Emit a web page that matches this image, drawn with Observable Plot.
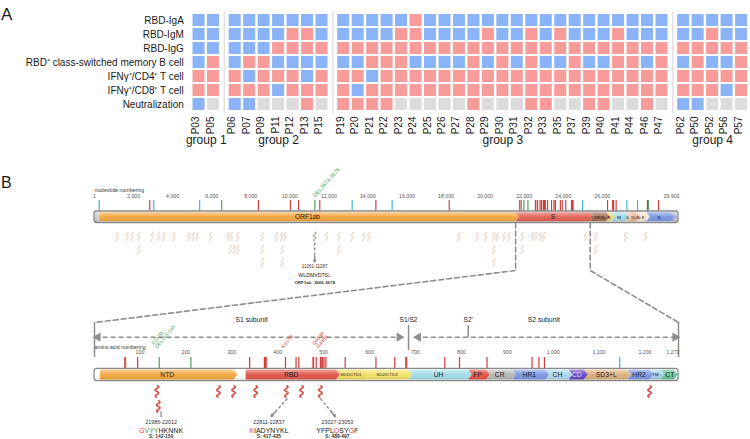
<!DOCTYPE html>
<html>
<head>
<meta charset="utf-8">
<script src="https://cdn.jsdelivr.net/npm/d3@7"></script>
<script src="https://cdn.jsdelivr.net/npm/@observablehq/plot@0.6"></script>
<style>
  html, body { margin: 0; padding: 0; background: #fff; }
  #chart { width: 750px; height: 439px; overflow: hidden; font-family: 'Liberation Sans', Arial, Helvetica, sans-serif; }
  #chart svg { display: block; }
</style>
</head>
<body>
<div id="chart"></div>
<script>
// ================= DATA: panel A =================
const rowLabels = ["RBD-IgA", "RBD-IgM", "RBD-IgG", "RBD⁺ class-switched memory B cell",
                   "IFNγ⁺/CD4⁺ T cell", "IFNγ⁺/CD8⁺ T cell", "Neutralization"];
const groupNames = ["group 1", "group 2", "group 3", "group 4"];
const groupSizes = [2, 7, 23, 5];
const patients = ["P03","P05",
  "P06","P07","P09","P11","P12","P13","P15",
  "P19","P20","P21","P22","P23","P24","P25","P26","P27","P28","P29","P30","P31","P32","P33","P35","P37","P39","P40","P41","P44","P46","P47",
  "P62","P50","P52","P56","P57"];
// N = negative (blue), P = positive (red), X = not determined (grey); "|" separates groups
const rbdIgA         = "NN|NNNNNNN|NNNNN PNNNN NNNNN NNNNN NNN|NNNNN";
const rbdIgM         = "NN|NNNNPPN|NNNNP PNNNN PNNPN PNNNP NNN|NNPNN";
const rbdIgG         = "NN|NNNPPPP|PPPPP PPPPP PPPPP PPPPP PPP|PPPPP";
const memoryB        = "NP|NPPNNNN|NNPPP NNNNP NPNPN NPNNP PNP|NPNNP";
const cd4T           = "PP|PNPPPNP|PPNPP PPPPP PPPPP PPPPP PPP|PPPPP";
const cd8T           = "PP|PPPNPPP|PNPPP PPPPP PPPPP PPPPP PPP|PPPNP";
const neutralization = "NX|NNXXXPX|PPPPX XXXXP XXXPP XXPPX XPX|NNXXX";

// ================= DATA: panel B =================
const NT_LEN = 29903, AA_LEN = 1273;
const genomeTicks = [1, 2000, 4000, 6000, 8000, 10000, 12000, 14000, 16000, 18000, 20000, 22000, 24000, 26000, 29903];
const utrNames  = ["5'UTR", "3'UTR"];
const utrStarts = [1, 29675];
const utrEnds   = [265, 29903];
const geneNames  = ["ORF1ab", "S", "ORF3a", "E", "M", "ORF6", "ORF7a", "ORF7b", "ORF8", "N", "ORF10"];
const geneLabels = ["ORF1ab", "S", "ORF3a", "E", "M", "6", "7a", "7b", "8", "N", ""];
const geneStarts = [266, 21563, 25393, 26245, 26523, 27202, 27394, 27756, 27894, 28274, 29558];
const geneEnds   = [21555, 25384, 26220, 26472, 27191, 27387, 27759, 27887, 28259, 29533, 29674];
// genome mutations (nt) and kind: n = missense, s = synonymous, d = deletion
const genomeMutPos = [241, 2832, 3037, 5386, 6513, 8393, 10029, 10449, 11283, 11537, 13195, 14408, 15240, 18163,
  21762, 21765, 21846, 21987, 22194,
  22578, 22673, 22679, 22686, 22813, 22882, 22898, 22992, 22995, 23013, 23040, 23048, 23055, 23063, 23075,
  23202, 23403, 23525, 23599, 23604, 23854, 23948, 24130, 24424, 24469, 24503,
  24994, 26270, 26530, 26577, 26709, 27259, 27807, 28311, 28362, 28881];
const genomeMutKind = "snssdnnndnsnsn|ndndd|nnnnn nnnnn nnnnn nnnnn nnnnn n|s|nnnnssndn";
const genomeDelLabel = ["DEL3674-3676"];
const genomeDelLabelPos = [11283];
// predicted epitopes along the genome (nt), three stacked rows
const genomeEpiRow1 = [1163, 1675, 1931, 2269, 2955, 3293, 3549, 4061, 4829, 5054, 5259, 5940, 6847, 7016, 7338, 8588,
  9320, 9576, 9745, 11880, 12510, 13196, 13790, 14046, 18654, 19596, 20021, 20446, 20620, 20958, 21214,
  21900, 22412, 22581, 22837, 23006, 25141, 25653, 27189, 28213];
const genomeEpiRow2 = [2269, 6949, 7154, 7338, 8588, 9610, 12510, 20446, 21900, 25653];
const genomeEpiRow3 = [8588, 9610, 20446];
const genomeCalloutPos = [11274];
const genomeCalloutRange = ["11261-11287"];
const genomeCalloutSeq = ["WLDMVDTSL"];
const genomeCalloutProt = ["ORF1ab: 3666-3674"];
const genomeCalloutMutIdx = [[8]];

// spike protein
const spikeTicks = [100, 200, 300, 400, 500, 600, 700, 800, 900, 1000, 1100, 1200, 1273];
const domainNames  = ["NTD", "RBD", "SD1/CTD1", "SD2/CTD2", "UH", "FP", "CR", "HR1", "CH", "CD", "SD3+L", "HR2", "TM", "CT"];
const domainStarts = [14, 331, 529, 591, 686, 816, 856, 912, 985, 1035, 1069, 1163, 1212, 1235];
const domainEnds   = [305, 528, 590, 685, 815, 855, 911, 984, 1034, 1068, 1162, 1211, 1234, 1273];
const spikeMutPos = [67, 69, 95, 142, 211, 339, 371, 373, 375, 417, 440, 446, 477, 478, 484, 493, 496, 498, 501, 505,
  547, 614, 655, 679, 681, 764, 796, 856, 954, 969, 981, 1145];
const spikeMutKind = "ndndd|nnnnn nnnnn nnnnn nnnnn nnnnn n|s";
const spikeMutLabels = ["G142D\nDEL143-145", "K417N", "Q493R\nG496S"];
const spikeMutLabelPos = [142, 417, 493];
const spikeMutLabelKind = ["d", "n", "n"];
const cleavageNames = ["S1/S2", "S2'"];
const cleavagePos = [685, 815];
const subunitNames = ["S1 subunit", "S2 subunit"];
const subunitStarts = [1, 686];
const subunitEnds = [685, 1273];
const spikeEpiRow1 = [137, 271, 304, 352, 419, 452, 493, 1210];
const spikeEpiRow2 = [140];
const spikeCalloutStart = [142, 417, 489];
const spikeCalloutEnd = [150, 425, 497];
const spikeCalloutRange = ["21986-22012", "22811-22837", "23027-23053"];
const spikeCalloutSeq = ["GVYYHKNNK", "KIADYNYKL", "YFPLQSYGF"];
const spikeCalloutProt = ["S: 142-150", "S: 417-425", "S: 489-497"];
const spikeCalloutRedIdx = [[0], [0], [4, 7]];
const spikeCalloutGreenIdx = [[1, 2, 3], [], []];

// ================= STYLES =================
const FONT = "'Liberation Sans', Arial, Helvetica, sans-serif";
const statusColor = {negative: "#8ab4f7", positive: "#f79b9b", "not determined": "#dcdcdc"};
const geneColor = {"5'UTR": "#cdcdcd", "ORF1ab": "#f4aa46", "S": "#e2655a", "ORF3a": "#a8735e", "E": "#f1df78",
  "M": "#a3dbeb", "ORF6": "#f3c7a8", "ORF7a": "#e9b493", "ORF7b": "#f4d9c8", "ORF8": "#f6e6d8", "N": "#7f9ae2",
  "ORF10": "#a9a3da", "3'UTR": "#cdcdcd"};
const domainColor = {"NTD": "#f4aa46", "RBD": "#e35c50", "SD1/CTD1": "#f2dc62", "SD2/CTD2": "#f4e36c", "UH": "#a4dfea",
  "FP": "#e2584a", "CR": "#b9b9b9", "HR1": "#809ce4", "CH": "#acd9ec", "CD": "#6a4cc0", "SD3+L": "#e0b481",
  "HR2": "#809ce4", "TM": "#a9cfe6", "CT": "#6fc79c"};
const mutColor = {missense: "#d23a3a", synonymous: "#39b1da", deletion: "#4e9e5c"};
const kindName = {n: "missense", s: "synonymous", d: "deletion"};
const GREY = "#8d8d8d", RED_TXT = "#e03c3c", GREEN_TXT = "#3c9c4c";

// ================= PANEL A =================
const statusName = {N: "negative", P: "positive", X: "not determined"};
const rowSeries = [rbdIgA, rbdIgM, rbdIgG, memoryB, cd4T, cd8T, neutralization]
  .map(s => s.replace(/[\s|]/g, "").split(""));
const patientGroup = groupSizes.flatMap((n, g) => Array(n).fill(g));
const patientPos = patients.map((p, i) => i + 0.5 * patientGroup[i]);
const cells = rowLabels.flatMap((r, ri) => rowSeries[ri].map((v, pi) => ({row: r, pos: patientPos[pi], status: statusName[v]})));
const groupCenters = groupNames.map((g, gi) => d3.mean(patientPos.filter((_, i) => patientGroup[i] === gi)));
const groupBreaks = groupNames.slice(1).map((g, gi) => {
  const first = patientGroup.indexOf(gi + 1);
  return (patientPos[first - 1] + patientPos[first]) / 2;
});

const A_LEFT = 191.3;
const plotA = Plot.plot({
  width: 750, height: 160,
  marginLeft: A_LEFT, marginRight: 1.7, marginTop: 0, marginBottom: 46,
  style: {fontFamily: FONT, fontSize: "10px", color: "#1a1a1a", background: "#fff"},
  x: {domain: [-0.5, 38], axis: null},
  y: {domain: rowLabels, range: [11.8, 112.2], paddingInner: 0.16, paddingOuter: 0.08,
      tickSize: 0, tickPadding: 8, label: null},
  color: {domain: Object.keys(statusColor), range: Object.values(statusColor)},
  marks: [
    Plot.ruleX(groupBreaks, {x: d => d, stroke: "#e2e2e2", strokeWidth: 1.5, insetTop: 11, insetBottom: 1}),
    Plot.barX(cells, {x1: d => d.pos - 0.415, x2: d => d.pos + 0.415, y: "row", fill: "status"}),
    Plot.text(patients, {x: (d, i) => patientPos[i], text: d => d, frameAnchor: "bottom",
      rotate: -90, textAnchor: "end", dy: 2, fontSize: 10}),
    Plot.text(groupNames, {x: (d, i) => groupCenters[i], text: d => d, frameAnchor: "bottom", dy: 29, fontSize: 12}),
    Plot.text(["A"], {frameAnchor: "top-left", text: d => d, dx: -A_LEFT + 0.5, dy: 7, fontSize: 17, textAnchor: "start"})
  ]
});

// ================= PANEL B =================
const aaToNt = aa => 1 + (aa - 1) * (NT_LEN - 1) / (AA_LEN - 1);
const TIP = 200;                 // arrow tip length (nt units, ~4px)
const Y = {                       // vertical layout of panel B (px from its top)
  ntTitle: 30, ntTick: 35.5, gMutTop: 40, gBarTop: 51, gBarBot: 62.5,
  gEpi: [76, 89, 102], gArrowTop: 82, gArrowEnd: 101.5, gCall: [106.5, 115.3, 122.3], gDelLabel: 36,
  connBend: 110, connEnd: 162, bracketEnd: 197,
  subLabel: 159.3, cleaveTop: 165, cleaveBot: [190, 177], subArrow: 176.7,
  aaTitle: 186.7, aaTick: 191.7, mutLabel: 188, sMutTop: 197, sBarTop: 208.3, sBarBot: 220.7,
  sEpi: [231, 246], sArrowTop: [251, 238, 238], sArrowEnd: 256, sCall: [261.7, 270, 276.3]
};
const calloutShift = [0, -40, 37];  // text offset (aa) of each spike callout from its epitope

function arrowPts(names, starts, ends, yTop, yBot, limit) {
  const mid = (yTop + yBot) / 2;
  return names.map((n, i) => {
    let e = ends[i];
    if (e + TIP > limit) e = limit - TIP;
    return [
      {name: n, x: starts[i], y1: yBot, y2: yTop},
      {name: n, x: e, y1: yBot, y2: yTop},
      {name: n, x: e + TIP, y1: mid, y2: mid}
    ];
  }).reverse().flat();
}
const genePts = arrowPts(geneNames, geneStarts, geneEnds, Y.gBarTop + 1, Y.gBarBot - 1, NT_LEN);
const domainPts = arrowPts(domainNames, domainStarts.map(aaToNt), domainEnds.map(aaToNt), Y.sBarTop + 1, Y.sBarBot - 1, NT_LEN);

const genomeKinds = genomeMutKind.replace(/[\s|]/g, "").split("").map(k => kindName[k]);
const spikeKinds = spikeMutKind.replace(/[\s|]/g, "").split("").map(k => kindName[k]);

// small vertical coil used for epitopes
const squiggle = {
  draw(ctx, size) {
    const h = Math.sqrt(size / Math.PI), w = h * 0.55;
    ctx.moveTo(0, -h);
    ctx.quadraticCurveTo(w, -h * 0.75, 0, -h * 0.5);
    ctx.quadraticCurveTo(-w, -h * 0.25, 0, 0);
    ctx.quadraticCurveTo(w, h * 0.25, 0, h * 0.5);
    ctx.quadraticCurveTo(-w, h * 0.75, 0, h);
  }
};

const sIdx = geneNames.indexOf("S");
const connectors = [
  {side: "L", x: geneStarts[sIdx], y: Y.gBarBot}, {side: "L", x: geneStarts[sIdx], y: Y.connBend}, {side: "L", x: aaToNt(1), y: Y.connEnd},
  {side: "R", x: geneEnds[sIdx], y: Y.gBarBot}, {side: "R", x: geneEnds[sIdx], y: Y.connBend}, {side: "R", x: aaToNt(AA_LEN), y: Y.connEnd}
];
const GAP = 300, HEAD = 175;
const subArrows = subunitNames.map((n, i) => ({
  x1: aaToNt(subunitStarts[i]) + (i === 0 ? 0 : GAP),
  x2: aaToNt(subunitEnds[i]) - (i === 0 ? GAP : 0)
}));
const subHeads = subArrows.flatMap(a => [{x: a.x1 + HEAD, r: -90}, {x: a.x2 - HEAD, r: 90}]);

const spikeCallouts = spikeCalloutSeq.map((s, i) => {
  const c = (spikeCalloutStart[i] + spikeCalloutEnd[i]) / 2;
  return {
    ex: aaToNt(c), tx: aaToNt(c + calloutShift[i]), ax: aaToNt(c + calloutShift[i] * 0.88),
    y1: Y.sArrowTop[i], range: spikeCalloutRange[i], seq: s, prot: spikeCalloutProt[i]
  };
});
const shaftFrac = 0.72;
const allArrows = [
  ...genomeCalloutPos.map(p => ({x1: p, y1: Y.gArrowTop, x2: p, y2: Y.gArrowEnd})),
  ...spikeCallouts.map(c => ({x1: c.ex, y1: c.y1, x2: c.ax, y2: Y.sArrowEnd}))
];

const fmt = d3.format(",");
const bigDomain = (n, i) => n.length <= 5 && domainEnds[i] - domainStarts[i] >= 25;

const palette = {...geneColor, ...domainColor, ...mutColor};

const plotB = Plot.plot({
  width: 750, height: 279,
  marginLeft: 94, marginRight: 72, marginTop: 0, marginBottom: 0,
  style: {fontFamily: FONT, fontSize: "6px", color: "#1a1a1a", background: "#fff", overflow: "visible"},
  x: {domain: [1, NT_LEN], axis: null},
  y: {domain: [0, 279], range: [0, 279], axis: null},
  color: {type: "ordinal", domain: Object.keys(palette), range: Object.values(palette)},
  marks: [
    Plot.text(["B"], {frameAnchor: "top-left", text: d => d, dx: -93.5, dy: 16, fontSize: 16, textAnchor: "start"}),

    // ---- genome ----
    Plot.text(["nucleotide numbering"], {x: 1, y: Y.ntTitle, text: d => d, textAnchor: "start", fontSize: 5.2, fill: "#333"}),
    Plot.text(genomeTicks.slice(0, -1), {x: d => d, y: Y.ntTick, text: d => fmt(d), fontSize: 5.2, fill: "#555"}),
    Plot.text(genomeTicks.slice(-1), {x: d => d, y: Y.ntTick, text: d => fmt(d), fontSize: 5.2, fill: "#555", textAnchor: "end", dx: 1}),
    Plot.ruleX(genomeMutPos, {x: d => d, y1: Y.gMutTop, y2: Y.gBarTop, stroke: (d, i) => genomeKinds[i], strokeWidth: 1.15}),
    Plot.text(genomeDelLabel, {x: (d, i) => genomeDelLabelPos[i], y: Y.gDelLabel, text: d => d, rotate: -48,
      textAnchor: "start", fontSize: 5.6, fill: mutColor.deletion, dx: -1}),
    Plot.rect([0], {x1: 1, x2: NT_LEN, y1: Y.gBarTop, y2: Y.gBarBot, fill: "#fff"}),
    Plot.rect(utrNames, {x1: (d, i) => utrStarts[i], x2: (d, i) => utrEnds[i], y1: Y.gBarTop, y2: Y.gBarBot, fill: d => d}),
    Plot.area(genePts, {x1: "x", y1: "y1", y2: "y2", z: "name", fill: "name", stroke: "#fff", strokeWidth: 0.5, strokeOpacity: 0.6}),
    Plot.rect([0], {x1: 1, x2: NT_LEN, y1: Y.gBarTop, y2: Y.gBarBot, fill: "url(#shine)"}),
    Plot.rect([0], {x1: 1, x2: NT_LEN, y1: Y.gBarTop, y2: Y.gBarBot, fill: "none", stroke: "#8a8a8a", strokeWidth: 1.3, rx: 2.5}),
    Plot.text(geneLabels.filter(l => l), {
      x: d => { const i = geneLabels.indexOf(d); return (geneStarts[i] + geneEnds[i]) / 2; },
      y: (Y.gBarTop + Y.gBarBot) / 2, text: d => d,
      fontSize: d => { const i = geneLabels.indexOf(d); return geneEnds[i] - geneStarts[i] > 3000 ? 6.6 : 4.3; },
      fill: "#2a1a10"}),
    Plot.dot(genomeEpiRow1, {x: d => d, y: Y.gEpi[0], symbol: squiggle, r: 4.5, fill: "none", stroke: "#e6d6c4", strokeWidth: 1.1}),
    Plot.dot(genomeEpiRow2, {x: d => d, y: Y.gEpi[1], symbol: squiggle, r: 4.5, fill: "none", stroke: "#e6d6c4", strokeWidth: 1.1}),
    Plot.dot(genomeEpiRow3, {x: d => d, y: Y.gEpi[2], symbol: squiggle, r: 4.5, fill: "none", stroke: "#e6d6c4", strokeWidth: 1.1}),
    Plot.dot(genomeCalloutPos, {x: d => d, y: Y.gEpi[0], symbol: squiggle, r: 4.5, fill: "none", stroke: "#ada295", strokeWidth: 1.2}),
    Plot.text(genomeCalloutRange, {x: (d, i) => genomeCalloutPos[i], y: Y.gCall[0], text: d => d, fontSize: 4.5, fill: "#333"}),
    Plot.text(genomeCalloutSeq, {x: (d, i) => genomeCalloutPos[i], y: Y.gCall[1], text: d => d, fontSize: 5.2, fill: "#222"}),
    Plot.text(genomeCalloutProt, {x: (d, i) => genomeCalloutPos[i], y: Y.gCall[2], text: d => d, fontSize: 4.4, fill: "#333", fontWeight: "bold"}),

    // ---- zoom connectors ----
    Plot.line(connectors, {x: "x", y: "y", z: "side", stroke: GREY, strokeWidth: 1.6, strokeDasharray: "5,3"}),
    Plot.ruleX([1, AA_LEN], {x: aaToNt, y1: Y.connEnd, y2: Y.bracketEnd, stroke: GREY, strokeWidth: 1.5}),

    // ---- spike annotations ----
    Plot.link(subArrows, {x1: "x1", x2: "x2", y1: Y.subArrow, y2: Y.subArrow, stroke: GREY, strokeWidth: 1.6, strokeDasharray: "5,3"}),
    Plot.dot(subHeads, {x: "x", y: Y.subArrow, symbol: "triangle", r: 3.4, fill: GREY, rotate: "r"}),
    Plot.ruleX(cleavagePos, {x: aaToNt, y1: Y.cleaveTop, y2: (d, i) => Y.cleaveBot[i], stroke: GREY, strokeWidth: 1.5}),
    Plot.text(cleavageNames, {x: (d, i) => aaToNt(cleavagePos[i]), y: Y.subLabel, text: d => d, fontSize: 6.6, fill: "#222"}),
    Plot.text(subunitNames, {x: (d, i) => aaToNt((subunitStarts[i] + subunitEnds[i]) / 2), y: Y.subLabel, text: d => d, fontSize: 6.8, fill: "#222"}),
    Plot.text(spikeMutLabels, {x: (d, i) => aaToNt(spikeMutLabelPos[i]), y: Y.mutLabel, text: d => d,
      fill: (d, i) => kindName[spikeMutLabelKind[i]], rotate: -50, textAnchor: "start", lineAnchor: "bottom",
      fontSize: 5, dx: -2}),
    Plot.text(["amino acid numbering"], {x: 1, y: Y.aaTitle, text: d => d, textAnchor: "start", fontSize: 5.2, fill: "#333"}),
    Plot.text(spikeTicks.slice(0, -1), {x: aaToNt, y: Y.aaTick, text: d => fmt(d), fontSize: 5.2, fill: "#555"}),
    Plot.text(spikeTicks.slice(-1), {x: aaToNt, y: Y.aaTick, text: d => fmt(d), fontSize: 5.2, fill: "#555", textAnchor: "end", dx: 1}),
    Plot.ruleX(spikeMutPos, {x: aaToNt, y1: Y.sMutTop, y2: Y.sBarTop, stroke: (d, i) => spikeKinds[i], strokeWidth: 1.2}),
    Plot.rect([0], {x1: 1, x2: NT_LEN, y1: Y.sBarTop, y2: Y.sBarBot, fill: "#fff"}),
    Plot.area(domainPts, {x1: "x", y1: "y1", y2: "y2", z: "name", fill: "name", stroke: "#fff", strokeWidth: 0.5, strokeOpacity: 0.6}),
    Plot.rect([0], {x1: 1, x2: NT_LEN, y1: Y.sBarTop, y2: Y.sBarBot, fill: "url(#shine)"}),
    Plot.rect([0], {x1: 1, x2: NT_LEN, y1: Y.sBarTop, y2: Y.sBarBot, fill: "none", stroke: "#8a8a8a", strokeWidth: 1.3, rx: 3}),
    Plot.text(domainNames, {x: (d, i) => aaToNt((domainStarts[i] + domainEnds[i]) / 2), y: (Y.sBarTop + Y.sBarBot) / 2,
      text: d => d, fontSize: (d, i) => bigDomain(d, i) ? 6.8 : 4.4,
      fill: d => d === "CD" ? "#e6defa" : "#1e1e2a"}),
    Plot.dot(spikeEpiRow1, {x: aaToNt, y: Y.sEpi[0], symbol: squiggle, r: 6, fill: "none", stroke: "#d6524a", strokeWidth: 1.8}),
    Plot.dot(spikeEpiRow2, {x: aaToNt, y: Y.sEpi[1], symbol: squiggle, r: 6, fill: "none", stroke: "#d6524a", strokeWidth: 1.8}),
    Plot.text(spikeCallouts, {x: "tx", y: Y.sCall[0], text: "range", fontSize: 5.4, fill: "#333"}),
    Plot.text(spikeCallouts, {x: "tx", y: Y.sCall[1], text: "seq", fontSize: 7, fill: "#222"}),
    Plot.text(spikeCallouts, {x: "tx", y: Y.sCall[2], text: "prot", fontSize: 4.9, fill: "#333", fontWeight: "bold"}),

    // ---- callout arrows (dashed shaft + solid head) ----
    Plot.link(allArrows, {x1: "x1", y1: "y1", x2: "x2", y2: "y2", stroke: GREY, strokeWidth: 1.4, strokeDasharray: "3,2"}),
    Plot.arrow(allArrows, {
      x1: d => d.x1 + shaftFrac * (d.x2 - d.x1), y1: d => d.y1 + shaftFrac * (d.y2 - d.y1),
      x2: "x2", y2: "y2", stroke: GREY, strokeWidth: 1.4, headLength: 5})
  ]
});

// gradient used for the bar sheen
const ns = "http://www.w3.org/2000/svg";
const defs = document.createElementNS(ns, "defs");
defs.innerHTML = '<linearGradient id="shine" x1="0" y1="0" x2="0" y2="1">' +
  '<stop offset="0" stop-color="#fff" stop-opacity="0.55"/>' +
  '<stop offset="0.45" stop-color="#fff" stop-opacity="0.08"/>' +
  '<stop offset="0.6" stop-color="#000" stop-opacity="0"/>' +
  '<stop offset="1" stop-color="#000" stop-opacity="0.12"/></linearGradient>';
plotB.prepend(defs);

// colour individual residues of the epitope sequences
function colorResidues(svg, str, red, green) {
  svg.querySelectorAll("text").forEach(t => {
    if (t.textContent !== str) return;
    t.textContent = "";
    [...str].forEach((ch, i) => {
      const ts = document.createElementNS(ns, "tspan");
      ts.textContent = ch;
      if (red.includes(i)) ts.setAttribute("fill", RED_TXT);
      else if (green.includes(i)) ts.setAttribute("fill", GREEN_TXT);
      t.appendChild(ts);
    });
  });
}
genomeCalloutSeq.forEach((s, i) => colorResidues(plotB, s, genomeCalloutMutIdx[i], []));
spikeCalloutSeq.forEach((s, i) => colorResidues(plotB, s, spikeCalloutRedIdx[i], spikeCalloutGreenIdx[i]));

const root = document.getElementById("chart");
root.appendChild(plotA);
root.appendChild(plotB);
</script>
</body>
</html>
